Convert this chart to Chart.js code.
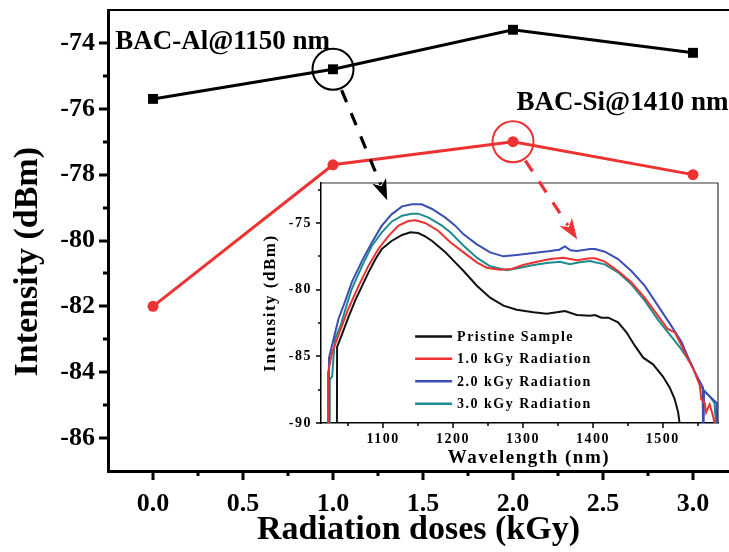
<!DOCTYPE html>
<html>
<head>
<meta charset="utf-8">
<script src="https://cdn.jsdelivr.net/npm/chart.js@4.4.1/dist/chart.umd.min.js"></script>
<style>
html, body { margin: 0; padding: 0; background: #fff; overflow: hidden; }
#wrap { position: relative; width: 729px; height: 552px; }
#wrap canvas { position: absolute; left: 0; top: 0; }
</style>
</head>
<body>
<div id="wrap">
  <canvas id="mainChart" width="729" height="552"></canvas>
  <canvas id="insetChart" width="729" height="552"></canvas>
</div>
<script>
// ---- main chart data ----
const doses = [0, 1, 2, 3];
const alIntensity = [-75.7, -74.8, -73.6, -74.3];   // BAC-Al @ 1150 nm
const siIntensity = [-82.0, -77.7, -77.0, -78.0];   // BAC-Si @ 1410 nm
const doseTicks = [0, 0.5, 1, 1.5, 2, 2.5, 3];
const intensityTicks = [-86, -84, -82, -80, -78, -76, -74];

// ---- inset spectra (wavelength nm / intensity dBm) ----
const wlPristine = [1033.8, 1034, 1041, 1050, 1060, 1070, 1079, 1089, 1098, 1112, 1127, 1139, 1150, 1160, 1170, 1189, 1203, 1215, 1234, 1253, 1272, 1291, 1315, 1334, 1353, 1360, 1377, 1396, 1403, 1412, 1422, 1436, 1448, 1460, 1472, 1486, 1500, 1510, 1517, 1522, 1524];
const dbPristine = [-90, -84.3, -83.35, -82.1, -80.8, -79.7, -78.7, -77.7, -76.95, -76.35, -75.9, -75.7, -75.75, -76.0, -76.35, -77.2, -77.95, -78.6, -79.7, -80.6, -81.2, -81.5, -81.7, -81.8, -81.65, -81.6, -81.9, -81.95, -81.9, -82.1, -82.1, -82.45, -83.2, -84.2, -85.1, -85.6, -86.5, -87.35, -88.2, -89.2, -90];

const wl1kGy = [1020.5, 1021, 1027, 1034, 1041, 1050, 1065, 1079, 1093, 1108, 1122, 1136, 1146, 1160, 1179, 1196, 1215, 1234, 1248, 1267, 1284, 1300, 1320, 1339, 1358, 1377, 1396, 1403, 1417, 1436, 1455, 1474, 1493, 1507, 1517, 1527, 1536, 1546, 1553, 1555, 1560, 1562, 1567, 1572, 1574];
const db1kGy = [-90, -86.25, -84.7, -83.7, -82.7, -81.45, -79.7, -78.2, -76.95, -75.95, -75.2, -74.85, -74.8, -75.0, -75.6, -76.45, -77.2, -77.95, -78.35, -78.5, -78.45, -78.15, -77.9, -77.7, -77.6, -77.8, -77.65, -77.65, -77.9, -78.6, -79.45, -80.6, -81.95, -82.95, -83.2, -84.2, -85.2, -86.2, -87.2, -88.2, -88.5, -89.2, -88.6, -89.5, -90];

const wl2kGy = [1022, 1022.5, 1029, 1036, 1046, 1055, 1070, 1084, 1098, 1112, 1127, 1141, 1155, 1170, 1189, 1203, 1215, 1234, 1253, 1272, 1291, 1315, 1339, 1352, 1360, 1368, 1377, 1396, 1403, 1417, 1436, 1455, 1474, 1493, 1512, 1527, 1536, 1546, 1555, 1557, 1557.5, 1558.5, 1559, 1567, 1577, 1578];
const db2kGy = [-90, -85.1, -83.7, -82.2, -80.8, -79.45, -77.8, -76.45, -75.2, -74.35, -73.75, -73.6, -73.6, -73.95, -74.6, -75.2, -75.85, -76.6, -77.2, -77.5, -77.4, -77.25, -77.1, -77.0, -76.75, -77.05, -77.1, -76.95, -76.95, -77.15, -77.7, -78.6, -79.7, -81.2, -82.7, -83.95, -85.05, -86.2, -87.1, -87.3, -90, -90, -87.6, -88.0, -88.5, -90];

const wl3kGy = [1023, 1023.5, 1027, 1029, 1031, 1039, 1046, 1055, 1070, 1084, 1098, 1112, 1127, 1141, 1150, 1165, 1184, 1196, 1215, 1234, 1253, 1277, 1296, 1315, 1334, 1353, 1367, 1381, 1396, 1403, 1417, 1436, 1455, 1474, 1493, 1512, 1527, 1541, 1550, 1558, 1567, 1574, 1576];
const db3kGy = [-90, -86.75, -86.5, -85.0, -83.7, -82.7, -81.45, -79.95, -78.2, -76.7, -75.7, -74.9, -74.45, -74.3, -74.3, -74.6, -75.2, -75.7, -76.7, -77.6, -78.25, -78.55, -78.35, -78.15, -78.0, -77.9, -78.1, -77.95, -77.85, -77.95, -78.1, -78.7, -79.6, -80.8, -82.25, -83.5, -84.5, -85.6, -86.75, -87.5, -88.0, -88.5, -90];

const seriesNames = ['Pristine Sample', '1.0 kGy Radiation', '2.0 kGy Radiation', '3.0 kGy Radiation'];
const wlTicks = [1100, 1200, 1300, 1400, 1500];
const dbTicks = [-90, -85, -80, -75];

const SERIF = '"Liberation Serif", "Times New Roman", serif';
const RED = '#ee3131';
const seriesColors = ['#111111', RED, '#3a4fb3', '#1f8b8f'];

const pts = (xs, ys) => xs.map((x, i) => ({ x: x, y: ys[i] }));

// minor ticks halfway between majors, strictly inside the axis range
function minorTicks(scale, majors) {
  const step = majors[1] - majors[0];
  const out = [];
  [majors[0] - step].concat(majors).forEach(v => {
    const m = v + step / 2;
    if (m > scale.min + 1e-9 && m < scale.max - 1e-9) out.push(m);
  });
  return out;
}

// outward tick marks + top/right frame lines
const tickMarks = {
  id: 'tickMarks',
  afterDraw(chart, args, o) {
    const { ctx, chartArea: a, scales: { x, y } } = chart;
    ctx.save();
    ctx.strokeStyle = '#000';
    ctx.lineWidth = o.width;
    ctx.beginPath();
    [[o.xMajor, o.major], [minorTicks(x, o.xMajor), o.minor]].forEach(([vals, len]) => vals.forEach(v => {
      const p = Math.round(x.getPixelForValue(v));
      ctx.moveTo(p, a.bottom); ctx.lineTo(p, a.bottom + len);
    }));
    [[o.yMajor, o.major], [minorTicks(y, o.yMajor), o.minor]].forEach(([vals, len]) => vals.forEach(v => {
      const p = Math.round(y.getPixelForValue(v));
      ctx.moveTo(a.left, p); ctx.lineTo(a.left - len, p);
    }));
    ctx.stroke();
    ctx.lineWidth = o.frameWidth;
    ctx.strokeStyle = o.frameColor;
    ctx.beginPath();
    ctx.moveTo(a.left, a.top); ctx.lineTo(a.right, a.top);
    if (o.rightEdge) ctx.lineTo(a.right, a.bottom);
    ctx.stroke();
    ctx.restore();
  }
};

// series name labels of the main chart
const labelNotes = [
  { text: 'BAC-Al@1150 nm', x: -0.21, y: -74.18 },
  { text: 'BAC-Si@1410 nm', x: 2.02, y: -76.05 }
];
const mainNotes = {
  id: 'mainNotes',
  afterDraw(chart) {
    const { ctx, scales: { x, y } } = chart;
    ctx.save();
    ctx.fillStyle = '#000';
    ctx.font = 'bold 27px ' + SERIF;
    ctx.textBaseline = 'alphabetic';
    ctx.textAlign = 'left';
    labelNotes.forEach(n => ctx.fillText(n.text, x.getPixelForValue(n.x), y.getPixelForValue(n.y)));
    ctx.restore();
  }
};

const mainChart = new Chart(document.getElementById('mainChart'), {
  type: 'line',
  data: {
    datasets: [{
      label: 'BAC-Al@1150 nm',
      data: pts(doses, alIntensity),
      borderColor: '#000', backgroundColor: '#000',
      borderWidth: 3, pointStyle: 'rect', pointRadius: 7, pointBorderWidth: 0
    }, {
      label: 'BAC-Si@1410 nm',
      data: pts(doses, siIntensity),
      borderColor: RED, backgroundColor: RED,
      borderWidth: 3, pointStyle: 'circle', pointRadius: 5.5, pointBorderWidth: 0
    }]
  },
  options: {
    responsive: false,
    animation: false,
    events: [],
    layout: { autoPadding: false, padding: { left: 0, top: 10, right: 0, bottom: 0 } },
    plugins: { legend: { display: false }, tooltip: { enabled: false },
      tickMarks: { xMajor: doseTicks, yMajor: intensityTicks, major: 9, minor: 5, width: 3, frameWidth: 2, frameColor: '#000', rightEdge: false } },
    elements: { line: { tension: 0 } },
    scales: {
      x: {
        type: 'linear', min: -0.25, max: 3.2,
        afterBuildTicks: s => { s.ticks = doseTicks.map(v => ({ value: v })); },
        afterFit: s => { s.height = 81; s.paddingLeft = 0; s.paddingRight = 0; },
        grid: { display: false, drawTicks: false },
        border: { display: true, width: 3, color: '#000' },
        ticks: { autoSkip: false, maxRotation: 0, padding: 18, color: '#000',
          font: { family: SERIF, weight: 'bold', size: 26 },
          callback: v => Number(v).toFixed(1) },
        title: { display: true, text: 'Radiation doses (kGy)', color: '#000',
          font: { family: SERIF, weight: 'bold', size: 34, lineHeight: 1 },
          padding: { top: 0, bottom: 5 } }
      },
      y: {
        type: 'linear', min: -87, max: -73,
        afterBuildTicks: s => { s.ticks = intensityTicks.map(v => ({ value: v })); },
        afterFit: s => { s.width = 108; s.paddingTop = 0; s.paddingBottom = 0; },
        grid: { display: false, drawTicks: false },
        border: { display: true, width: 3, color: '#000' },
        ticks: { autoSkip: false, padding: 13, color: '#000',
          font: { family: SERIF, weight: 'bold', size: 26 },
          callback: v => String(v) },
        title: { display: true, text: 'Intensity (dBm)\u00a0\u00a0\u00a0\u00a0\u00a0', color: '#000',
          font: { family: SERIF, weight: 'bold', size: 34, lineHeight: 1 },
          padding: { top: 11.5, bottom: 0 } }
      }
    }
  },
  plugins: [tickMarks, mainNotes]
});

// highlighted points and arrow tips (tips in inset wavelength/dBm units)
const pointers = [
  { color: '#000', x: doses[1], y: alIntensity[1], tipX: 1105.7, tipY: -73.3 },
  { color: RED, x: doses[2], y: siIntensity[2], tipX: 1377.6, tipY: -76.24 }
];

function drawArrow(ctx, x0, y0, x1, y1, color) {
  const len = Math.hypot(x1 - x0, y1 - y0);
  const ux = (x1 - x0) / len, uy = (y1 - y0) / len;
  const head = 21, half = 7.5;
  const bx = x1 - ux * head, by = y1 - uy * head;
  ctx.strokeStyle = color;
  ctx.fillStyle = color;
  ctx.lineWidth = 3.2;
  ctx.setLineDash([13, 12]);
  ctx.beginPath();
  ctx.moveTo(x0, y0);
  ctx.lineTo(bx + ux * 4, by + uy * 4);
  ctx.stroke();
  ctx.setLineDash([]);
  ctx.beginPath();
  ctx.moveTo(x1, y1);
  ctx.lineTo(bx - uy * half, by + ux * half);
  ctx.lineTo(x1 - ux * head * 0.72, y1 - uy * head * 0.72);
  ctx.lineTo(bx + uy * half, by - ux * half);
  ctx.closePath();
  ctx.fill();
}

const insetDecor = {
  id: 'insetDecor',
  beforeLayout(chart) { chart.ctx.letterSpacing = '1.5px'; },
  beforeDraw(chart) {
    const { ctx, chartArea: a } = chart;
    ctx.letterSpacing = '1.5px';
    ctx.save();
    ctx.fillStyle = '#fff';
    ctx.fillRect(a.left, a.top, a.right - a.left, a.bottom - a.top);
    ctx.restore();
  },
  afterDraw(chart) {
    const { ctx, scales: { x, y } } = chart;
    // legend
    ctx.save();
    ctx.font = 'bold 14px ' + SERIF;
    ctx.textBaseline = 'middle';
    ctx.textAlign = 'left';
    ctx.lineWidth = 2.5;
    seriesNames.forEach((name, i) => {
      const py = y.getPixelForValue(-83.51 - i * 1.68);
      ctx.strokeStyle = seriesColors[i];
      ctx.beginPath();
      ctx.moveTo(x.getPixelForValue(1145.7), py);
      ctx.lineTo(x.getPixelForValue(1198.6), py);
      ctx.stroke();
      ctx.fillStyle = '#000';
      ctx.fillText(name, x.getPixelForValue(1205.7), py + 1);
    });
    ctx.restore();
    // circles and dashed arrows from the main chart to the spectra
    const mx = mainChart.scales.x, my = mainChart.scales.y;
    ctx.save();
    pointers.forEach(p => {
      const cx = mx.getPixelForValue(p.x), cy = my.getPixelForValue(p.y);
      const tx = x.getPixelForValue(p.tipX), ty = y.getPixelForValue(p.tipY);
      const r = 20.5;
      ctx.strokeStyle = p.color;
      ctx.lineWidth = 2;
      ctx.beginPath();
      ctx.arc(cx, cy, r, 0, Math.PI * 2);
      ctx.stroke();
      const len = Math.hypot(tx - cx, ty - cy);
      drawArrow(ctx, cx + (tx - cx) / len * (r + 2), cy + (ty - cy) / len * (r + 2), tx, ty, p.color);
    });
    ctx.restore();
  }
};

const spectra = [[wlPristine, dbPristine], [wl1kGy, db1kGy], [wl2kGy, db2kGy], [wl3kGy, db3kGy]];

new Chart(document.getElementById('insetChart'), {
  type: 'line',
  data: {
    datasets: spectra.map(([wl, db], i) => ({
      label: seriesNames[i],
      data: pts(wl, db),
      borderColor: seriesColors[i],
      borderWidth: 2,
      pointRadius: 0
    }))
  },
  options: {
    responsive: false,
    animation: false,
    events: [],
    layout: { autoPadding: false, padding: { left: 255, top: 183, right: 11, bottom: 79 } },
    plugins: { legend: { display: false }, tooltip: { enabled: false },
      tickMarks: { xMajor: wlTicks, yMajor: dbTicks, major: 5, minor: 3, width: 1.5, frameWidth: 1.2, frameColor: '#333', rightEdge: true } },
    elements: { line: { tension: 0 } },
    scales: {
      x: {
        type: 'linear', min: 1011, max: 1579,
        afterBuildTicks: s => { s.ticks = wlTicks.map(v => ({ value: v })); },
        afterFit: s => { s.height = 50; s.paddingLeft = 0; s.paddingRight = 0; },
        grid: { display: false, drawTicks: false },
        border: { display: true, width: 1.5, color: '#000' },
        ticks: { autoSkip: false, maxRotation: 0, padding: 7.5, color: '#000',
          font: { family: SERIF, weight: 'bold', size: 14 },
          callback: v => String(v) },
        title: { display: true, text: '\u00a0\u00a0\u00a0Wavelength (nm)', color: '#000',
          font: { family: SERIF, weight: 'bold', size: 19 },
          padding: { top: 0, bottom: 4 } }
      },
      y: {
        type: 'linear', min: -90, max: -72,
        afterBuildTicks: s => { s.ticks = dbTicks.map(v => ({ value: v })); },
        afterFit: s => { s.width = 66; s.paddingTop = 0; s.paddingBottom = 0; },
        grid: { display: false, drawTicks: false },
        border: { display: true, width: 1.5, color: '#000' },
        ticks: { autoSkip: false, padding: 9, color: '#000',
          font: { family: SERIF, weight: 'bold', size: 14 },
          callback: v => String(v) },
        title: { display: true, text: 'Intensity (dBm)', color: '#000',
          font: { family: SERIF, weight: 'bold', size: 17 },
          padding: { top: 5, bottom: 0 } }
      }
    }
  },
  plugins: [tickMarks, insetDecor]
});
</script>
</body>
</html>
